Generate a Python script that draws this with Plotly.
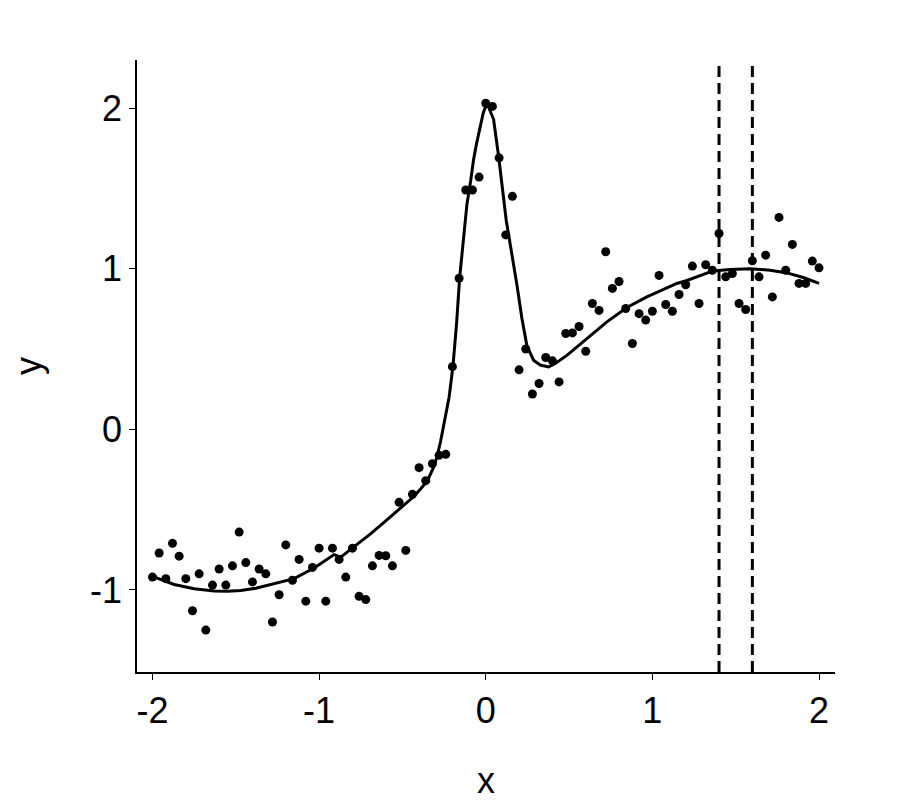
import plotly.graph_objects as go

# observed points
x_pts = [-2.00, -1.96, -1.92, -1.88, -1.84, -1.80, -1.76, -1.72, -1.68, -1.64,
         -1.60, -1.56, -1.52, -1.48, -1.44, -1.40, -1.36, -1.32, -1.28, -1.24,
         -1.20, -1.16, -1.12, -1.08, -1.04, -1.00, -0.96, -0.92, -0.88, -0.84,
         -0.80, -0.76, -0.72, -0.68, -0.64, -0.60, -0.56, -0.52, -0.48, -0.44,
         -0.40, -0.36, -0.32, -0.28, -0.24, -0.20, -0.16, -0.12, -0.08, -0.04,
         0.00, 0.04, 0.08, 0.12, 0.16, 0.20, 0.24, 0.28, 0.32, 0.36,
         0.40, 0.44, 0.48, 0.52, 0.56, 0.60, 0.64, 0.68, 0.72, 0.76,
         0.80, 0.84, 0.88, 0.92, 0.96, 1.00, 1.04, 1.08, 1.12, 1.16,
         1.20, 1.24, 1.28, 1.32, 1.36, 1.40, 1.44, 1.48, 1.52, 1.56,
         1.60, 1.64, 1.68, 1.72, 1.76, 1.80, 1.84, 1.88, 1.92, 1.96, 2.00]
y_pts = [-0.92, -0.77, -0.93, -0.71, -0.79, -0.93, -1.13, -0.90, -1.25, -0.97,
         -0.87, -0.97, -0.85, -0.64, -0.83, -0.95, -0.87, -0.90, -1.20, -1.03,
         -0.72, -0.94, -0.81, -1.07, -0.86, -0.74, -1.07, -0.74, -0.81, -0.92,
         -0.74, -1.04, -1.06, -0.85, -0.785, -0.787, -0.85, -0.455, -0.754, -0.405,
         -0.239, -0.32, -0.214, -0.162, -0.156, 0.39, 0.94, 1.49, 1.49, 1.57,
         2.03, 2.01, 1.69, 1.21, 1.45, 0.37, 0.50, 0.22, 0.285, 0.447,
         0.426, 0.295, 0.596, 0.60, 0.64, 0.486, 0.783, 0.74, 1.105, 0.877,
         0.92, 0.752, 0.534, 0.72, 0.68, 0.735, 0.958, 0.777, 0.735, 0.839,
         0.90, 1.016, 0.783, 1.024, 0.99, 1.219, 0.949, 0.97, 0.783, 0.746,
         1.049, 0.949, 1.084, 0.824, 1.319, 0.99, 1.151, 0.908, 0.908, 1.047, 1.005]

# fitted curve
curve_x = [-2.00, -1.87, -1.75, -1.63, -1.55, -1.47, -1.38, -1.27, -1.15, -1.03,
           -0.91, -0.87, -0.79, -0.69, -0.60, -0.52, -0.43, -0.39, -0.35, -0.31,
           -0.29, -0.27, -0.25, -0.22, -0.197, -0.175, -0.157, -0.135, -0.113, -0.09,
           -0.073, -0.055, -0.037, -0.015, 0.007, 0.02, 0.047, 0.077, 0.10, 0.123,
           0.147, 0.167, 0.187, 0.217, 0.247, 0.287, 0.327, 0.377, 0.417, 0.487,
           0.607, 0.727, 0.847, 0.967, 1.147, 1.203, 1.363, 1.466, 1.586, 1.706,
           1.802, 1.906, 2.00]
curve_y = [-0.916, -0.966, -0.993, -1.007, -1.009, -1.003, -0.99, -0.96, -0.93, -0.864,
           -0.78, -0.796, -0.733, -0.65, -0.57, -0.50, -0.417, -0.37, -0.32, -0.23,
           -0.16, -0.07, 0.03, 0.20, 0.39, 0.66, 0.94, 1.18, 1.40, 1.55,
           1.68, 1.78, 1.87, 1.97, 2.03, 2.00, 1.93, 1.70, 1.49, 1.30,
           1.15, 1.03, 0.90, 0.69, 0.52, 0.43, 0.40, 0.388, 0.41, 0.46,
           0.565, 0.669, 0.758, 0.824, 0.908, 0.925, 0.986, 0.995, 1.00, 0.99,
           0.975, 0.945, 0.908]

vlines_x = [1.4, 1.6]
tick_vals = [-2, -1, 0, 1, 2]
tick_text = ["-2", "-1", "0", "1", "2"]

FONT = "Liberation Sans, Arial, sans-serif"

fig = go.Figure()
fig.add_trace(go.Scatter(x=x_pts, y=y_pts, mode="markers",
                         marker=dict(color="black", size=9), showlegend=False))
fig.add_trace(go.Scatter(x=curve_x, y=curve_y, mode="lines",
                         line=dict(color="black", width=3), showlegend=False))

for xv in vlines_x:
    fig.add_shape(type="line", x0=xv, x1=xv, y0=0, y1=1, xref="x", yref="paper",
                  line=dict(color="black", width=3, dash="11px,6px"))

fig.update_layout(
    width=924, height=803,
    margin=dict(l=129, r=97, t=52, b=139),
    plot_bgcolor="white", paper_bgcolor="white",
    font=dict(family=FONT, size=36, color="black"),
)
fig.update_xaxes(range=[-2.093, 2.096], tickvals=tick_vals, ticktext=tick_text,
                 showgrid=False, zeroline=False, showline=True, linecolor="black",
                 linewidth=1.5, ticks="outside", ticklen=6, tickcolor="black",
                 tickfont=dict(size=36),
                 title=dict(text="x", standoff=38, font=dict(size=36)))
fig.update_yaxes(range=[-1.511, 2.299], tickvals=tick_vals, ticktext=tick_text,
                 showgrid=False, zeroline=False, showline=True, linecolor="black",
                 linewidth=1.5, ticks="outside", ticklen=6, tickcolor="black",
                 tickfont=dict(size=36),
                 title=dict(text="y", standoff=40, font=dict(size=36)))

fig.write_html("out.html")
